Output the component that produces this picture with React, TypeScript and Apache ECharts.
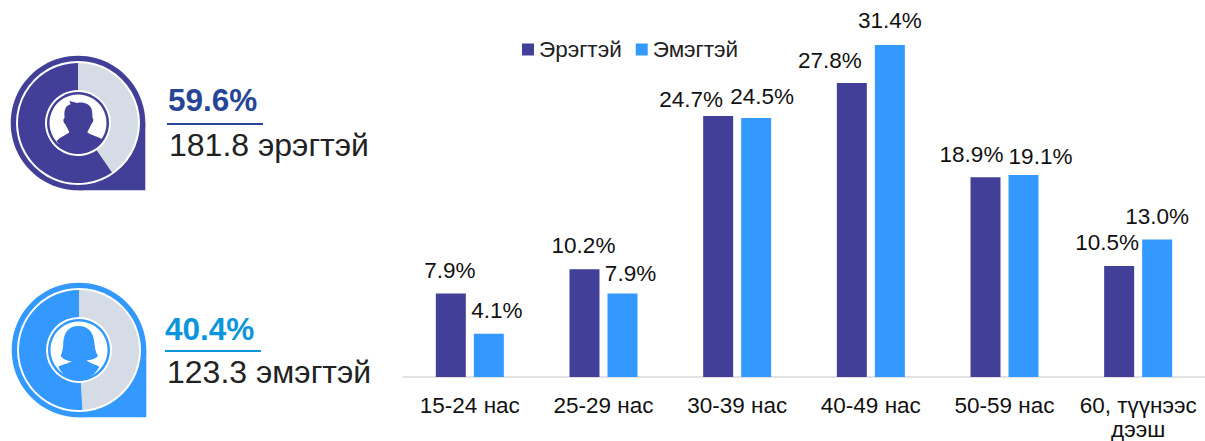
import React, { useEffect, useRef } from "react";
import * as echarts from "echarts";

const categories = ["15-24 нас", "25-29 нас", "30-39 нас", "40-49 нас", "50-59 нас", "60, түүнээс\nдээш"];
const maleValues = [7.9, 10.2, 24.7, 27.8, 18.9, 10.5];
const femaleValues = [4.1, 7.9, 24.5, 31.4, 19.1, 13.0];
const maleDonut = [40.4, 59.6];
const femaleDonut = [49.1, 50.9];
// label nudges (dx, dy) relative to the default position above each bar
const maleLabelNudge = [[-1, -6], [-1, -7], [-27, 0], [-22, -6], [-14, -6], [-12, -7]];
const femaleLabelNudge = [[8, -7], [8, -3], [6, -5], [0, -8], [17, -2], [0, -7]];
const MALE = "#423F98";
const FEMALE = "#3399FF";
const GREY = "#D6DCE6";
const FONT = "Liberation Sans, Arial, sans-serif";

const manPath =
  "M88 48 L112 54 C130 50 148 56 155 72 C158 85 157 92 158 100 C162 102 160 112 154 118 C150 128 146 134 142 142 C155 152 178 156 190 165 C170 195 140 205 114 205 C90 205 65 195 50 168 C62 155 80 150 88 142 C84 132 80 126 76 118 C70 112 68 102 74 98 C72 80 74 62 92 58 Z";
const womanPath =
  "M115 42 C145 42 160 60 163 90 C164 108 168 122 174 132 C165 142 152 144 140 145 C150 155 170 158 178 165 C160 195 140 205 117 205 C92 205 72 195 55 165 C65 158 85 155 95 148 C82 146 70 142 62 132 C68 120 70 105 70 90 C72 60 88 42 115 42 Z";
echarts.graphic.registerShape("man", echarts.graphic.extendPath(manPath, {}) as any);
echarts.graphic.registerShape("woman", echarts.graphic.extendPath(womanPath, {}) as any);

export default function App() {
  const ref = useRef<HTMLDivElement>(null);
  useEffect(() => {
    document.body.style.margin = "0";
    const chart = echarts.init(ref.current!, undefined, { renderer: "svg" });
    const pin = (cx: number, cy: number, color: string) => [
      { type: "circle", z: 0, shape: { cx, cy, r: 67.3 }, style: { fill: color } },
      { type: "rect", z: 0, shape: { x: cx, y: cy, width: 67.3, height: 67.3 }, style: { fill: color } },
      { type: "circle", z: 0, shape: { cx, cy, r: 62 }, style: { fill: "#fff" } },
      { type: "circle", z: 10, shape: { cx, cy, r: 31 }, style: { fill: color } },
      { type: "circle", z: 11, shape: { cx, cy, r: 28.5 }, style: { fill: "#fff" } },
    ];
    const bars = (values: number[], nudges: number[][]) =>
      values.map((value, i) => ({ value, label: { offset: nudges[i] } }));
    const barLabel = {
      show: true, position: "top", distance: 5, fontSize: 22.5, color: "#111", fontFamily: FONT,
      formatter: (p: any) => p.value.toFixed(1) + "%",
    };
    chart.setOption({
      animation: false,
      textStyle: { fontFamily: FONT },
      grid: { left: 403, top: 7, width: 802, height: 370, outerBoundsMode: "none" },
      legend: {
        left: 517, top: 33, itemWidth: 12, itemHeight: 12, itemGap: 14,
        icon: "rect", selectedMode: false,
        textStyle: { fontSize: 22.5, color: "#222", fontFamily: FONT },
        data: ["Эрэгтэй", "Эмэгтэй"],
      },
      xAxis: {
        type: "category", data: categories,
        axisLine: { lineStyle: { color: "#D9D9D9", width: 1.5 } },
        axisTick: { show: false },
        axisLabel: { fontSize: 22.5, color: "#111", margin: 16, lineHeight: 24, interval: 0, fontFamily: FONT },
      },
      yAxis: { type: "value", min: 0, max: 35, show: false, splitLine: { show: false } },
      series: [
        {
          name: "Эрэгтэй", type: "bar", data: bars(maleValues, maleLabelNudge), barWidth: 30, barGap: "26.7%",
          itemStyle: { color: MALE }, label: barLabel,
        },
        {
          name: "Эмэгтэй", type: "bar", data: bars(femaleValues, femaleLabelNudge), barWidth: 30,
          itemStyle: { color: FEMALE }, label: barLabel,
        },
        {
          type: "pie", center: [78, 123], radius: [33, 60], startAngle: 90, silent: true,
          label: { show: false }, labelLine: { show: false },
          data: [
            { value: maleDonut[0], name: "g1", itemStyle: { color: GREY } },
            { value: maleDonut[1], name: "m1", itemStyle: { color: MALE } },
          ],
        },
        {
          type: "pie", center: [79, 350], radius: [33, 60], startAngle: 90, silent: true,
          label: { show: false }, labelLine: { show: false },
          data: [
            { value: femaleDonut[0], name: "g2", itemStyle: { color: GREY } },
            { value: femaleDonut[1], name: "f1", itemStyle: { color: FEMALE } },
          ],
        },
      ],
      graphic: [
        ...pin(78, 123, MALE),
        ...pin(79, 350, FEMALE),
        { type: "man", z: 12, x: 40, y: 85, scaleX: 1 / 3, scaleY: 1 / 3, style: { fill: MALE } },
        { type: "woman", z: 12, x: 40, y: 312, scaleX: 1 / 3, scaleY: 1 / 3, style: { fill: FEMALE } },
        { type: "text", z: 20, x: 168, y: 84, style: { text: "59.6%", fontSize: 31.5, fontWeight: "bold", fill: "#264595", fontFamily: FONT } },
        { type: "rect", z: 20, shape: { x: 167, y: 123, width: 96, height: 2 }, style: { fill: "#264595" } },
        { type: "text", z: 20, x: 169, y: 129, style: { text: "181.8 эрэгтэй", fontSize: 32, fill: "#222", fontFamily: FONT } },
        { type: "text", z: 20, x: 165, y: 313, style: { text: "40.4%", fontSize: 31.5, fontWeight: "bold", fill: "#0B96DB", fontFamily: FONT } },
        { type: "rect", z: 20, shape: { x: 165, y: 350, width: 96, height: 2 }, style: { fill: "#0B96DB" } },
        { type: "text", z: 20, x: 167, y: 356, style: { text: "123.3 эмэгтэй", fontSize: 32, fill: "#222", fontFamily: FONT } },
      ],
    });
    return () => chart.dispose();
  }, []);
  return <div ref={ref} style={{ position: "absolute", left: 0, top: 0, width: 1205, height: 441 }} />;
}
